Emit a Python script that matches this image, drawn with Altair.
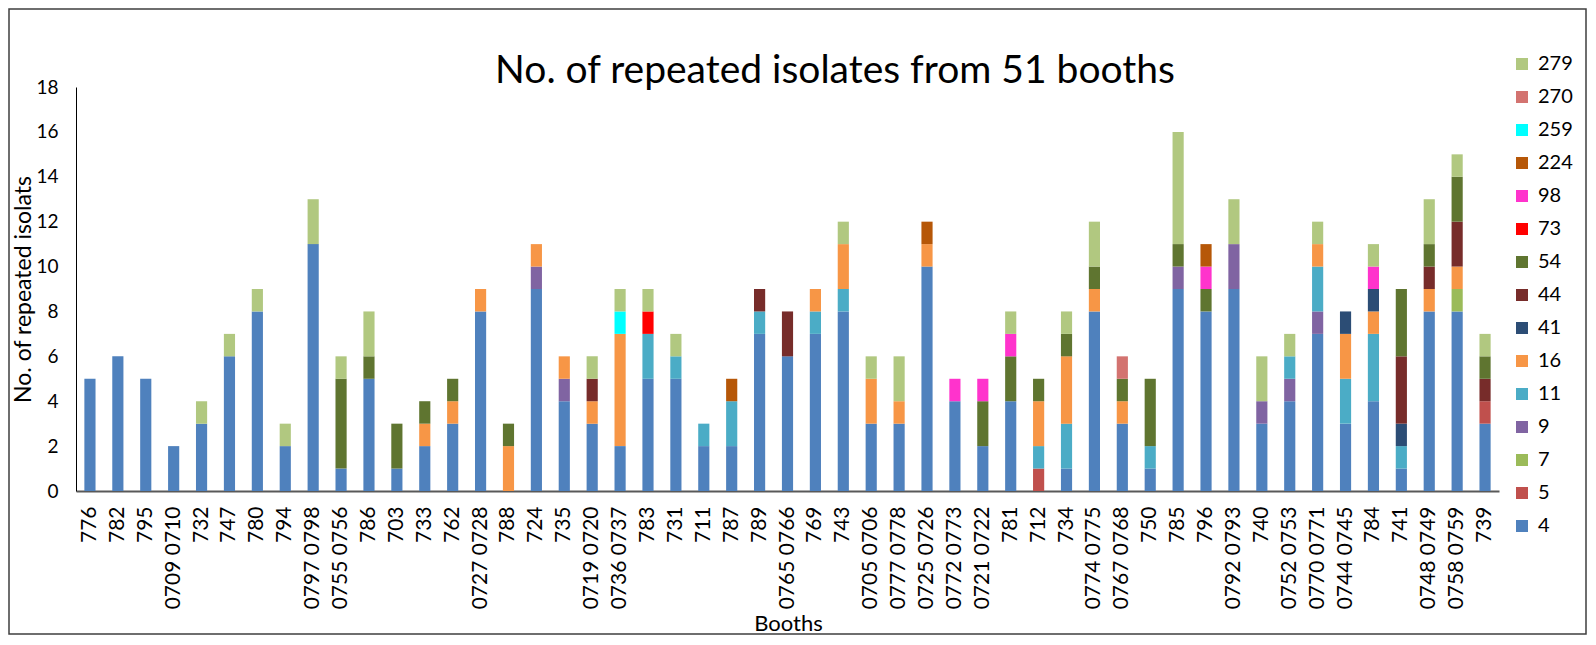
import altair as alt
import pandas as pd

booths = ["776", "782", "795", "0709 0710", "732", "747", "780", "794", "0797 0798", "0755 0756",
          "786", "703", "733", "762", "0727 0728", "788", "724", "735", "0719 0720", "0736 0737",
          "783", "731", "711", "787", "789", "0765 0766", "769", "743", "0705 0706", "0777 0778",
          "0725 0726", "0772 0773", "0721 0722", "781", "712", "734", "0774 0775", "0767 0768", "750", "785",
          "796", "0792 0793", "740", "0752 0753", "0770 0771", "0744 0745", "784", "741", "0748 0749", "0758 0759",
          "739"]

s4 = [5, 6, 5, 2, 3, 6, 8, 2, 11, 1, 5, 1, 2, 3, 8, 0, 9, 4, 3, 2, 5, 5, 2, 2, 7, 6, 7, 8, 3, 3,
      10, 4, 2, 4, 0, 1, 8, 3, 1, 9, 8, 9, 3, 4, 7, 3, 4, 1, 8, 8, 3]
s5 = [0, 0, 0, 0, 0, 0, 0, 0, 0, 0, 0, 0, 0, 0, 0, 0, 0, 0, 0, 0, 0, 0, 0, 0, 0, 0, 0, 0, 0, 0,
      0, 0, 0, 0, 1, 0, 0, 0, 0, 0, 0, 0, 0, 0, 0, 0, 0, 0, 0, 0, 1]
s7 = [0, 0, 0, 0, 0, 0, 0, 0, 0, 0, 0, 0, 0, 0, 0, 0, 0, 0, 0, 0, 0, 0, 0, 0, 0, 0, 0, 0, 0, 0,
      0, 0, 0, 0, 0, 0, 0, 0, 0, 0, 0, 0, 0, 0, 0, 0, 0, 0, 0, 1, 0]
s9 = [0, 0, 0, 0, 0, 0, 0, 0, 0, 0, 0, 0, 0, 0, 0, 0, 1, 1, 0, 0, 0, 0, 0, 0, 0, 0, 0, 0, 0, 0,
      0, 0, 0, 0, 0, 0, 0, 0, 0, 1, 0, 2, 1, 1, 1, 0, 0, 0, 0, 0, 0]
s11 = [0, 0, 0, 0, 0, 0, 0, 0, 0, 0, 0, 0, 0, 0, 0, 0, 0, 0, 0, 0, 2, 1, 1, 2, 1, 0, 1, 1, 0, 0,
       0, 0, 0, 0, 1, 2, 0, 0, 1, 0, 0, 0, 0, 1, 2, 2, 3, 1, 0, 0, 0]
s16 = [0, 0, 0, 0, 0, 0, 0, 0, 0, 0, 0, 0, 1, 1, 1, 2, 1, 1, 1, 5, 0, 0, 0, 0, 0, 0, 1, 2, 2, 1,
       1, 0, 0, 0, 2, 3, 1, 1, 0, 0, 0, 0, 0, 0, 1, 2, 1, 0, 1, 1, 0]
s41 = [0, 0, 0, 0, 0, 0, 0, 0, 0, 0, 0, 0, 0, 0, 0, 0, 0, 0, 0, 0, 0, 0, 0, 0, 0, 0, 0, 0, 0, 0,
       0, 0, 0, 0, 0, 0, 0, 0, 0, 0, 0, 0, 0, 0, 0, 1, 1, 1, 0, 0, 0]
s44 = [0, 0, 0, 0, 0, 0, 0, 0, 0, 0, 0, 0, 0, 0, 0, 0, 0, 0, 1, 0, 0, 0, 0, 0, 1, 2, 0, 0, 0, 0,
       0, 0, 0, 0, 0, 0, 0, 0, 0, 0, 0, 0, 0, 0, 0, 0, 0, 3, 1, 2, 1]
s54 = [0, 0, 0, 0, 0, 0, 0, 0, 0, 4, 1, 2, 1, 1, 0, 1, 0, 0, 0, 0, 0, 0, 0, 0, 0, 0, 0, 0, 0, 0,
       0, 0, 2, 2, 1, 1, 1, 1, 3, 1, 1, 0, 0, 0, 0, 0, 0, 3, 1, 2, 1]
s73 = [0, 0, 0, 0, 0, 0, 0, 0, 0, 0, 0, 0, 0, 0, 0, 0, 0, 0, 0, 0, 1, 0, 0, 0, 0, 0, 0, 0, 0, 0,
       0, 0, 0, 0, 0, 0, 0, 0, 0, 0, 0, 0, 0, 0, 0, 0, 0, 0, 0, 0, 0]
s98 = [0, 0, 0, 0, 0, 0, 0, 0, 0, 0, 0, 0, 0, 0, 0, 0, 0, 0, 0, 0, 0, 0, 0, 0, 0, 0, 0, 0, 0, 0,
       0, 1, 1, 1, 0, 0, 0, 0, 0, 0, 1, 0, 0, 0, 0, 0, 1, 0, 0, 0, 0]
s224 = [0, 0, 0, 0, 0, 0, 0, 0, 0, 0, 0, 0, 0, 0, 0, 0, 0, 0, 0, 0, 0, 0, 0, 1, 0, 0, 0, 0, 0, 0,
        1, 0, 0, 0, 0, 0, 0, 0, 0, 0, 1, 0, 0, 0, 0, 0, 0, 0, 0, 0, 0]
s259 = [0, 0, 0, 0, 0, 0, 0, 0, 0, 0, 0, 0, 0, 0, 0, 0, 0, 0, 0, 1, 0, 0, 0, 0, 0, 0, 0, 0, 0, 0,
        0, 0, 0, 0, 0, 0, 0, 0, 0, 0, 0, 0, 0, 0, 0, 0, 0, 0, 0, 0, 0]
s270 = [0, 0, 0, 0, 0, 0, 0, 0, 0, 0, 0, 0, 0, 0, 0, 0, 0, 0, 0, 0, 0, 0, 0, 0, 0, 0, 0, 0, 0, 0,
        0, 0, 0, 0, 0, 0, 0, 1, 0, 0, 0, 0, 0, 0, 0, 0, 0, 0, 0, 0, 0]
s279 = [0, 0, 0, 0, 1, 1, 1, 1, 2, 1, 2, 0, 0, 0, 0, 0, 0, 0, 1, 1, 1, 1, 0, 0, 0, 0, 0, 1, 1, 2,
        0, 0, 0, 1, 0, 1, 2, 0, 0, 5, 0, 2, 2, 1, 1, 0, 1, 0, 2, 1, 1]

types = ["4", "5", "7", "9", "11", "16", "41", "44", "54", "73", "98", "224", "259", "270", "279"]
series = [s4, s5, s7, s9, s11, s16, s41, s44, s54, s73, s98, s224, s259, s270, s279]
colors = ["#4F81BD", "#C0504D", "#9BBB59", "#8064A2", "#4BACC6", "#F79646", "#2C4D75", "#772C2A",
          "#5F7530", "#FF0000", "#FF33CC", "#B65708", "#00FFFF", "#D37370", "#B1C880"]

title_text = "No. of repeated isolates from 51 booths"

rows = []
for rank, (t, vals) in enumerate(zip(types, series)):
    for b, v in zip(booths, vals):
        if v > 0:
            rows.append({"booth": b, "type": t, "count": v, "rank": rank})
df = pd.DataFrame(rows)

legend_domain = types[::-1]
legend_range = colors[::-1]

bars = alt.Chart(df).mark_bar().encode(
    x=alt.X("booth:N", sort=booths,
            scale=alt.Scale(paddingInner=0.6, paddingOuter=0.3),
            axis=alt.Axis(labelAngle=270, labelAlign="right", labelBaseline="middle",
                          labelPadding=15, labelFont="Lato", labelFontSize=21, labelColor="#000000",
                          labelOverlap=False, labelLimit=300, ticks=False,
                          domainColor="#595959", domainWidth=2,
                          title="Booths", titleFont="Lato", titleFontSize=22, titleFontWeight="normal",
                          titleColor="#000000", titleX=712, titleY=139, titleAlign="center",
                          titleBaseline="alphabetic")),
    y=alt.Y("count:Q", stack="zero",
            scale=alt.Scale(domain=[0, 18], nice=False),
            axis=alt.Axis(values=[0, 2, 4, 6, 8, 10, 12, 14, 16, 18], ticks=False, grid=False,
                          labelFont="Lato", labelFontSize=19, labelColor="#000000", labelPadding=18,
                          domainColor="#000000", domainWidth=1,
                          title="No. of repeated isolats", titleFont="Lato", titleFontSize=23,
                          titleFontWeight="normal", titleColor="#000000",
                          titleX=-53, titleY=202, titleAngle=270, titleAlign="center",
                          titleBaseline="middle")),
    color=alt.Color("type:N",
                    scale=alt.Scale(domain=legend_domain, range=legend_range),
                    legend=alt.Legend(orient="none", legendX=1436, legendY=-33, title=None,
                                      symbolType="square", symbolSize=144, symbolStrokeWidth=0,
                                      labelFont="Lato", labelFontSize=20, labelColor="#000000",
                                      rowPadding=13, labelOffset=6, padding=0)),
    order=alt.Order("rank:Q", sort="ascending"),
)

title_layer = alt.Chart(pd.DataFrame({"t": [title_text]})).mark_text(
    font="Lato", fontSize=39, align="center", baseline="alphabetic", color="#000000"
).encode(x=alt.value(759), y=alt.value(-4), text="t:N")

border = alt.Chart(pd.DataFrame({"a": [0]})).mark_rect(
    filled=False, stroke="#3F3F3F", strokeWidth=1.5
).encode(x=alt.value(-67), x2=alt.value(1510), y=alt.value(-78), y2=alt.value(547))

chart = alt.layer(border, bars, title_layer).properties(
    width=1423, height=404, autosize="none",
    padding={"left": 68, "top": 79, "right": 89, "bottom": 145},
    background="#FFFFFF",
).configure_view(strokeWidth=0)

chart.save("out.html", embed_options={"renderer": "svg", "actions": False})
